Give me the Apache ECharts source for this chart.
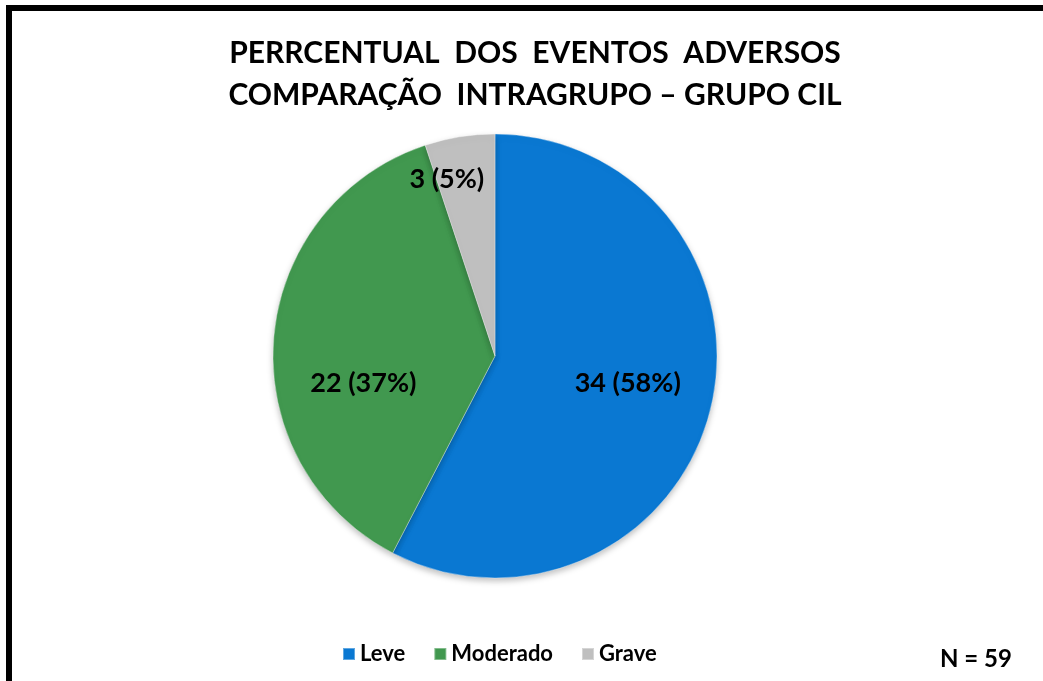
<!DOCTYPE html>
<html>
<head>
<meta charset="utf-8">
<script src="https://cdn.jsdelivr.net/npm/echarts@6/dist/echarts.min.js"></script>
<style>
  html, body { margin: 0; padding: 0; background: #fff; overflow: hidden; }
  #frame { position: absolute; left: 6px; top: 5px; width: 1060px; height: 700px; border: 6px solid #000; box-sizing: border-box; }
  #chart { position: absolute; left: 0; top: 0; width: 1043px; height: 681px; }
</style>
</head>
<body>
<div id="frame"></div>
<div id="chart"></div>
<script>
// dados do gráfico
const categorias = ['Leve', 'Moderado', 'Grave']
const eventos = [34, 22, 3]
const percentuais = ['58%', '37%', '5%']
const cores = ['#0a78d2', '#41984f', '#bfbfbf']
const titulo = ['PERRCENTUAL  DOS  EVENTOS  ADVERSOS', 'COMPARAÇÃO  INTRAGRUPO – GRUPO CIL']
const totalN = 'N = 59'

const FONT = 'Lato, "Open Sans", sans-serif'

const chart = echarts.init(document.getElementById('chart'))

chart.setOption({
  backgroundColor: 'transparent',
  title: {
    text: titulo.join('\n'),
    left: 530,
    top: 27,
    textAlign: 'center',
    textStyle: { fontFamily: FONT, fontWeight: 'bold', fontSize: 30, lineHeight: 42, color: '#000' },
  },
  legend: {
    bottom: 11,
    left: 337,
    itemWidth: 12,
    itemHeight: 12,
    itemGap: 28,
    icon: 'rect',
    textStyle: { fontFamily: FONT, fontWeight: 'bold', fontSize: 22, color: '#000' },
    data: categorias,
  },
  graphic: [{
    type: 'text',
    left: 940,
    top: 647,
    style: { text: totalN, fontFamily: FONT, fontWeight: 'bold', fontSize: 24, fill: '#000' },
  }],
  series: [{
    type: 'pie',
    center: [495, 356],
    radius: 222,
    startAngle: 90,
    clockwise: true,
    animation: false,
    label: {
      position: 'inside',
      fontFamily: FONT,
      fontWeight: 'bold',
      fontSize: 27,
      color: '#000',
      formatter: (p) => `${eventos[p.dataIndex]} (${percentuais[p.dataIndex]})`,
    },
    labelLayout: (p) => {
      if (p.dataIndex === 0) return { dx: 22, dy: 0 }
      if (p.dataIndex === 1) return { dx: -18, dy: 36 }
      return { dx: -30, dy: -64 }
    },
    itemStyle: {
      borderColor: 'rgba(255,255,255,0.35)',
      borderWidth: 1,
      shadowColor: 'rgba(0,0,0,0.25)',
      shadowBlur: 6,
      shadowOffsetY: 3,
    },
    emphasis: { disabled: true },
    data: categorias.map((c, i) => ({ name: c, value: eventos[i], itemStyle: { color: cores[i] } })),
  }],
})
</script>
</body>
</html>
